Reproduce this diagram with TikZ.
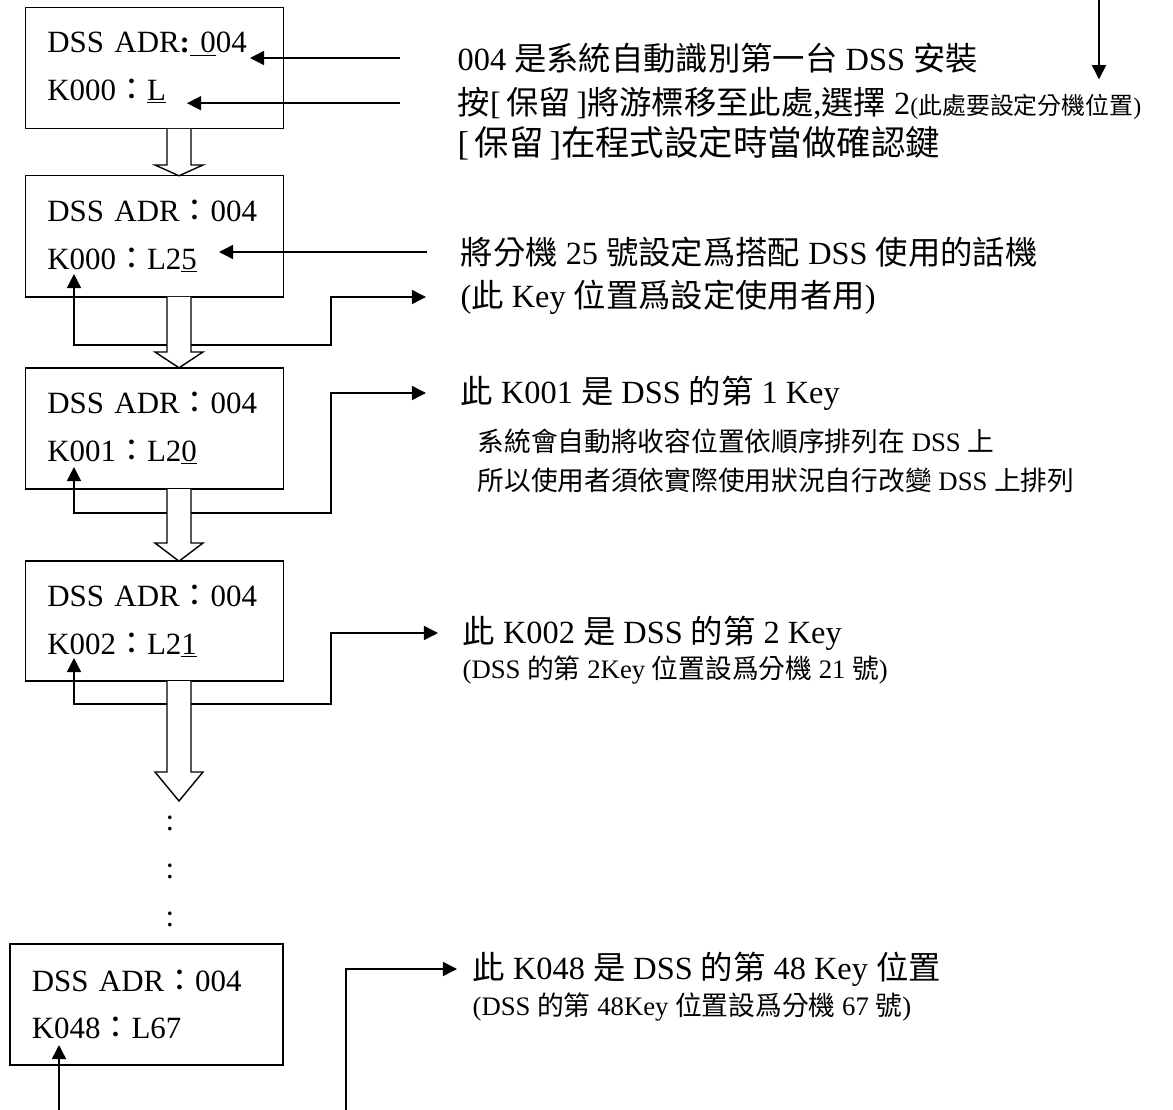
\documentclass[tikz,border=0pt]{standalone}
\usepackage{fontspec}
\setmainfont{Liberation Serif}
\newfontfamily\cjk{Noto Sans CJK TC}
\usetikzlibrary{arrows.meta}

\begin{document}
\begin{tikzpicture}[>={Triangle[length=10pt,width=10pt]}, line width=1pt,
 box/.style={draw, align=left, minimum width=6.45cm, minimum height=3.03cm,
 text width=5.35cm, inner xsep=0.55cm, inner ysep=0pt, font=\fontsize{22}{34}\selectfont},
 lbl/.style={anchor=west, inner sep=0pt, font=\fontsize{23}{26}\selectfont},
 note/.style={anchor=west, inner sep=0pt, font=\fontsize{19}{22}\selectfont},
 edge/.style={->},
 hollow/.style={draw, fill=white, line join=miter}]
\useasboundingbox (0,0) rectangle (29.325,-27.75);
\node[box] (b1) at (3.86,-1.70) {DSS ADR\textbf{:}\underline{\ 0}04\\K000{\cjk ：}\underline{L}};
\node[box] (b2) at (3.86,-5.91) {DSS ADR{\cjk ：}004\\K000{\cjk ：}L2\underline{5}};
\node[box] (b3) at (3.86,-10.71) {DSS ADR{\cjk ：}004\\K001{\cjk ：}L2\underline{0}};
\node[box, minimum height=3cm] (b4) at (3.86,-15.53) {DSS ADR{\cjk ：}004\\K002{\cjk ：}L2\underline{1}};
\node[box, minimum width=6.825cm, text width=5.725cm] (b5) at (3.66,-25.11) {DSS ADR{\cjk ：}004\\K048{\cjk ：}L67};
\node[font=\fontsize{22}{26}\selectfont] (d1) at (4.25,-20.59) {:};
\node[font=\fontsize{22}{26}\selectfont] (d2) at (4.25,-21.78) {:};
\node[font=\fontsize{22}{26}\selectfont] (d3) at (4.25,-22.99) {:};
% notes on the right
\node[lbl] (t1) at (11.425,-1.45) {004 {\cjk 是系統自動識別第一台} DSS {\cjk 安裝}};
\node[lbl] (t2) at (11.425,-2.58) {{\cjk 按}[\,{\cjk 保留}\,]{\cjk 將游標移至此處},{\cjk 選擇} 2{\fontsize{17}{20}\selectfont({\cjk 此處要設定分機位置})}};
\node[lbl, font=\fontsize{24.5}{28}\selectfont] (t3) at (11.425,-3.575) {[\,{\cjk 保留}\,]{\cjk 在程式設定時當做確認鍵}};
\node[lbl] (t4) at (11.5,-6.3) {{\cjk 將分機} 25 {\cjk 號設定爲搭配} DSS {\cjk 使用的話機}};
\node[lbl] (t5) at (11.5,-7.425) {({\cjk 此} Key {\cjk 位置爲設定使用者用})};
\node[lbl] (t6) at (11.5,-9.825) {{\cjk 此} K001 {\cjk 是} DSS {\cjk 的第} 1 Key};
\node[note] (t7) at (11.925,-11.025) {{\cjk 系統會自動將收容位置依順序排列在} DSS {\cjk 上}};
\node[note] (t8) at (11.925,-12.0) {{\cjk 所以使用者須依實際使用狀況自行改變} DSS {\cjk 上排列}};
\node[lbl] (t9) at (11.55,-15.825) {{\cjk 此} K002 {\cjk 是} DSS {\cjk 的第} 2 Key};
\node[note] (t10) at (11.55,-16.75) {(DSS {\cjk 的第} 2Key {\cjk 位置設爲分機} 21 {\cjk 號})};
\node[lbl] (t11) at (11.8,-24.225) {{\cjk 此} K048 {\cjk 是} DSS {\cjk 的第} 48 Key {\cjk 位置}};
\node[note] (t12) at (11.8,-25.175) {(DSS {\cjk 的第} 48Key {\cjk 位置設爲分機} 67 {\cjk 號})};
% points inside the boxes and loose ends
\coordinate (a1) at (6.25,-1.45);
\coordinate (a2) at (4.675,-2.58);
\coordinate (a4) at (5.475,-6.3);
\coordinate (k2) at (1.85,-6.85);
\coordinate (k3) at (1.85,-11.675);
\coordinate (k4) at (1.85,-16.45);
\coordinate (k5) at (1.475,-26.125);
\coordinate (topend) at (27.475,0);
\coordinate (bl) at (1.475,-27.75);
\coordinate (br) at (8.65,-27.75);
\draw[edge] ([xshift=-1.425cm]t1.west) -- (a1);
\draw[edge] ([xshift=-1.425cm]t2.west) -- (a2);
\draw[edge] (topend) -- ([yshift=5pt]topend |- t2.north);
\draw[edge] ([xshift=-0.825cm]t4.west) -- (a4);
\draw[<->] (k2) |- (8.275,-8.625) |- ([xshift=-0.85cm]t5.west);
\draw[<->] (k3) |- (8.275,-12.825) |- ([xshift=-0.85cm]t6.west);
\draw[<->] (k4) |- (8.275,-17.6) |- ([xshift=-0.6cm]t9.west);
\draw[edge] (bl) -- (k5);
\draw[edge] (br) |- ([xshift=-0.375cm]t11.west);
% hollow arrows between the boxes
\draw[hollow] (4.175,-3.225) -- (4.175,-4.125) -- (3.875,-4.125) -- (4.475,-4.395) -- (5.075,-4.125) -- (4.775,-4.125) -- (4.775,-3.225);
\draw[hollow] (4.175,-7.425) -- (4.175,-8.8) -- (3.875,-8.8) -- (4.475,-9.195) -- (5.075,-8.8) -- (4.775,-8.8) -- (4.775,-7.425);
\draw[hollow] (4.175,-12.225) -- (4.175,-13.575) -- (3.875,-13.575) -- (4.475,-14.03) -- (5.075,-13.575) -- (4.775,-13.575) -- (4.775,-12.225);
\draw[hollow] (4.175,-17.03) -- (4.175,-19.3) -- (3.875,-19.3) -- (4.475,-20.025) -- (5.075,-19.3) -- (4.775,-19.3) -- (4.775,-17.03);
\end{tikzpicture}
\end{document}
